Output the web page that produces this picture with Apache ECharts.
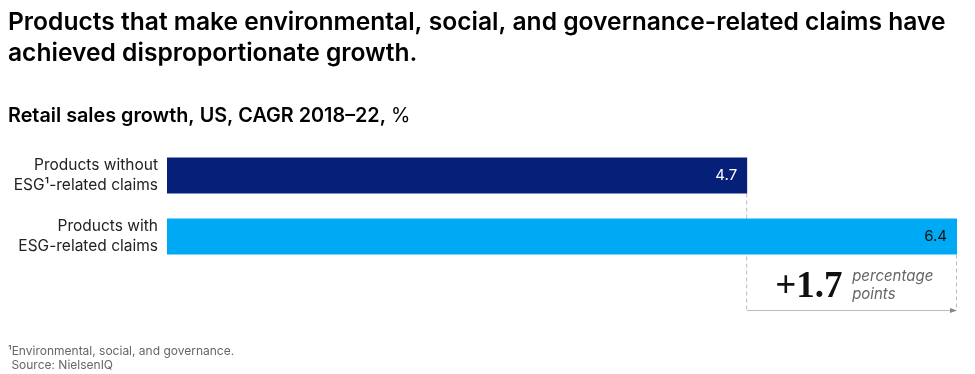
<!DOCTYPE html>
<html><head><meta charset="utf-8">
<script src="https://cdn.jsdelivr.net/npm/echarts@6/dist/echarts.min.js"></script>
<style>html,body{margin:0;padding:0;background:#fff}#c{width:975px;height:374px}</style>
</head><body><div id="c"></div>
<script>
const categories = ['Products without\nESG¹-related claims', 'Products with\nESG-related claims', ''];
const values = [4.7, 6.4];
const barColors = ['#061f79', '#00a9f4'];
const labelColors = ['#ffffff', '#111111'];
const diffText = '+1.7';
const diffUnit = 'percentage\npoints';

const chart = echarts.init(document.getElementById('c'), null, {renderer: 'canvas'});
const font = 'Inter, "Liberation Sans", Arial, sans-serif';
chart.setOption({
  animation: false,
  grid: {left: 167, right: 18, top: 145, height: 183},
  xAxis: {type: 'value', min: 0, max: 6.4, show: false},
  yAxis: {type: 'category', data: categories, inverse: true,
    axisLine: {show: false}, axisTick: {show: false},
    axisLabel: {margin: 9, fontFamily: font, fontSize: 15.5, color: '#222', lineHeight: 20, align: 'right'}},
  title: [
    {text: 'Products that make environmental, social, and governance-related claims have\nachieved disproportionate growth.',
     left: 3, top: 2, textStyle: {fontFamily: font, fontWeight: 600, fontSize: 24.6, lineHeight: 31, color: '#000'}},
    {text: '{b|Retail sales growth, US, CAGR 2018–22,} {n|%}', left: 3, top: 101,
     textStyle: {rich: {b: {fontFamily: font, fontWeight: 600, fontSize: 19.8, color: '#000'},
                        n: {fontFamily: font, fontWeight: 400, fontSize: 19.8, color: '#000'}}}},
    {text: '¹Environmental, social, and governance.\n Source: NielsenIQ', left: 3, top: 339,
     textStyle: {fontFamily: font, fontWeight: 400, fontSize: 12, lineHeight: 14, color: '#666'}}
  ],
  series: [{
    type: 'bar', barWidth: 36,
    data: values.map((v, i) => ({value: v, itemStyle: {color: barColors[i]},
      label: {show: true, position: 'insideRight', color: labelColors[i], distance: 10,
              fontFamily: font, fontSize: 15, formatter: String(v)}}))
  }]
});

function build() {
  const p1 = chart.convertToPixel({gridIndex: 0}, [values[0], 0]);
  const p2 = chart.convertToPixel({gridIndex: 0}, [values[1], 1]);
  const p3 = chart.convertToPixel({gridIndex: 0}, [values[0], 2]);
  const half = 18;
  const yBase = p3[1] + 13;
  const dash = {stroke: '#bbb', lineWidth: 1, lineDash: [4, 3]};
  chart.setOption({graphic: [
    {type: 'line', shape: {x1: p1[0] - 0.5, y1: p1[1] + half, x2: p1[0] - 0.5, y2: yBase}, style: dash, z: 0},
    {type: 'line', shape: {x1: p2[0] - 0.5, y1: p2[1] + half, x2: p2[0] - 0.5, y2: yBase}, style: dash, z: 0},
    {type: 'line', shape: {x1: p1[0], y1: yBase, x2: p2[0] - 4, y2: yBase}, style: {stroke: '#bbb', lineWidth: 1}},
    {type: 'polygon', shape: {points: [[p2[0], yBase], [p2[0] - 7, yBase - 2.5], [p2[0] - 7, yBase + 2.5]]}, style: {fill: '#888'}},
    {type: 'text', x: p1[0] + 28, y: p3[1] - 10, style: {text: diffText, fontFamily: '"Liberation Serif", "DejaVu Serif", serif', fontWeight: 'bold', fontSize: 37, fill: '#111', textVerticalAlign: 'middle'}},
    {type: 'text', x: p1[0] + 105, y: p3[1] - 12, style: {text: diffUnit, fontFamily: font, fontStyle: 'italic', fontSize: 15, lineHeight: 18, fill: '#666', textVerticalAlign: 'middle'}}
  ]});
}
build();
</script></body></html>
